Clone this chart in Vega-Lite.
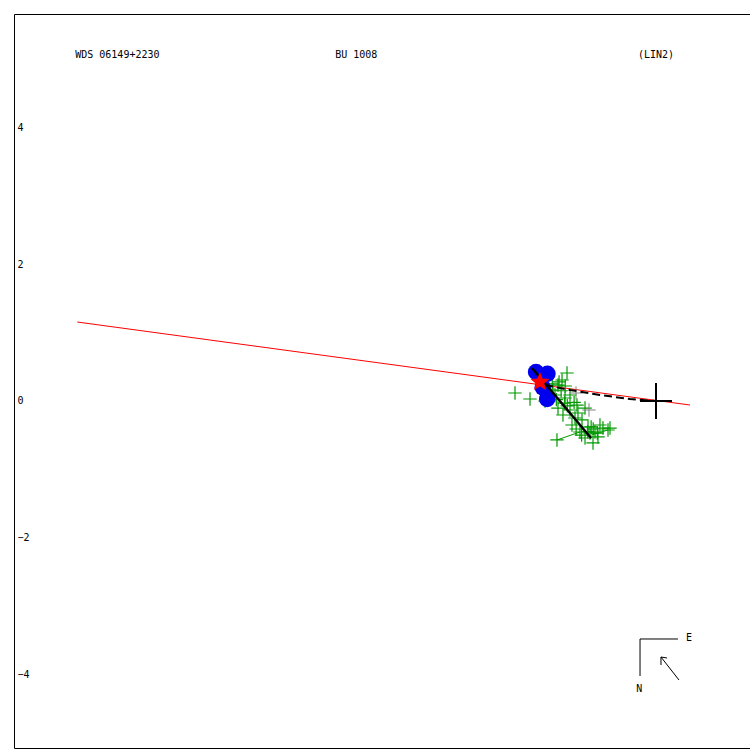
{
  "$schema": "https://vega.github.io/schema/vega-lite/v6.json",
  "width": 740,
  "height": 734,
  "autosize": {"type": "none"},
  "padding": {"left": 14, "top": 14, "right": 0, "bottom": 2},
  "background": "white",
  "config": {"view": {"stroke": "black", "strokeWidth": 1}},
  "encoding": {
    "x": {"field": "x", "type": "quantitative", "scale": {"domain": [-9.407, 1.436], "nice": false, "zero": false}, "axis": null},
    "y": {"field": "y", "type": "quantitative", "scale": {"domain": [-5.084, 5.67], "nice": false, "zero": false},
      "axis": {"values": [-4, -2, 0, 2, 4], "orient": "left", "ticks": false, "tickSize": 0, "domain": false, "grid": false, "labelAlign": "left", "labelPadding": -3, "labelFont": "DejaVu Sans Mono", "labelFontSize": 10, "labelColor": "black", "labelBaseline": "middle", "title": null}}
  },
  "layer": [
    {
      "data": {"values": [{"x": -8.48, "y": 1.157, "o": 0}, {"x": 0.498, "y": -0.059, "o": 1}]},
      "mark": {"type": "line", "color": "red", "strokeWidth": 1},
      "encoding": {"order": {"field": "o"}}
    },
    {
      "data": {"values": [{"x": -1.451, "y": -0.571, "x2": -1.114, "y2": -0.454}, {"x": -0.703, "y": -0.425, "x2": -0.95, "y2": -0.5}]},
      "mark": {"type": "rule", "color": "#009900", "strokeWidth": 1},
      "encoding": {"x2": {"field": "x2"}, "y2": {"field": "y2"}}
    },
    {
      "data": {"values": [
        {"x": -2.066, "y": 0.117}, {"x": -1.846, "y": 0.029}, {"x": -1.304, "y": 0.41}, {"x": -1.377, "y": 0.308},
        {"x": -1.436, "y": 0.234}, {"x": -1.509, "y": 0.161}, {"x": -1.568, "y": 0.073}, {"x": -1.626, "y": 0.0},
        {"x": -1.333, "y": 0.044}, {"x": -1.158, "y": -0.059}, {"x": -1.04, "y": -0.103}, {"x": -1.436, "y": -0.103},
        {"x": -1.26, "y": -0.132}, {"x": -1.143, "y": -0.176}, {"x": -1.187, "y": -0.249}, {"x": -1.084, "y": -0.278},
        {"x": -0.996, "y": -0.381}, {"x": -0.85, "y": -0.527}, {"x": -0.703, "y": -0.425}, {"x": -0.923, "y": -0.615},
        {"x": -1.04, "y": -0.542}, {"x": -1.451, "y": -0.571}, {"x": -0.777, "y": -0.396}, {"x": -0.894, "y": -0.454},
        {"x": -1.114, "y": -0.454}, {"x": -0.967, "y": -0.469}, {"x": -1.231, "y": -0.352}, {"x": -1.363, "y": -0.205},
        {"x": -1.48, "y": 0.088}, {"x": -1.26, "y": 0.088}, {"x": -0.821, "y": -0.352}, {"x": -0.674, "y": -0.396},
        {"x": -1.39, "y": 0.15}, {"x": -1.2, "y": -0.02}, {"x": -1.0, "y": -0.45}, {"x": -0.95, "y": -0.38},
        {"x": -1.42, "y": 0.28}, {"x": -1.33, "y": 0.22}, {"x": -1.46, "y": 0.02}, {"x": -1.3, "y": -0.07},
        {"x": -1.09, "y": -0.5}, {"x": -0.92, "y": -0.41}, {"x": -0.86, "y": -0.47}, {"x": -1.17, "y": -0.41},
        {"x": -1.34, "y": -0.03}, {"x": -1.52, "y": 0.25}
      ]},
      "mark": {"type": "point", "shape": "M-1,0H1M0,-1V1", "filled": false, "stroke": "#009900", "strokeWidth": 1.2, "size": 180, "opacity": 1}
    },
    {
      "data": {"values": [{"x": -1.172, "y": 0.117}, {"x": -0.982, "y": -0.132}]},
      "mark": {"type": "point", "shape": "M-1,0H1M0,-1V1", "filled": false, "stroke": "#808080", "strokeWidth": 1, "size": 180, "opacity": 1}
    },
    {
      "data": {"values": [{"x": -1.758, "y": 0.425}, {"x": -1.59, "y": 0.4}, {"x": -1.595, "y": 0.03}, {"x": -1.66, "y": 0.2}]},
      "mark": {"type": "point", "shape": "circle", "filled": true, "color": "#0000ee", "size": 270, "opacity": 1}
    },
    {
      "data": {"values": [{"x": -1.817, "y": 0.484, "o": 0}, {"x": -0.952, "y": -0.542, "o": 1}]},
      "mark": {"type": "line", "color": "black", "strokeWidth": 2.5},
      "encoding": {"order": {"field": "o"}}
    },
    {
      "data": {"values": [
        {"x": -1.626, "y": 0.234, "o": 0}, {"x": -1.26, "y": 0.161, "o": 1}, {"x": -0.821, "y": 0.088, "o": 2},
        {"x": -0.381, "y": 0.029, "o": 3}, {"x": 0.0, "y": 0.0, "o": 4}, {"x": 0.234, "y": 0.0, "o": 5}
      ]},
      "mark": {"type": "line", "color": "black", "strokeWidth": 2, "strokeDash": [8, 4]},
      "encoding": {"order": {"field": "o"}}
    },
    {
      "data": {"values": [{"x": -1.7, "y": 0.278}]},
      "mark": {"type": "point", "shape": "M0,-1L0.265,-0.364L0.951,-0.309L0.428,0.139L0.588,0.809L0,0.45L-0.588,0.809L-0.428,0.139L-0.951,-0.309L-0.265,-0.364Z", "filled": true, "color": "red", "size": 400, "opacity": 1}
    },
    {
      "data": {"values": [
        {"x": 0.0, "y": 0.264, "x2": 0.0, "y2": -0.264},
        {"x": -0.234, "y": 0.0, "x2": 0.234, "y2": 0.0}
      ]},
      "mark": {"type": "rule", "color": "black", "strokeWidth": 2},
      "encoding": {"x2": {"field": "x2"}, "y2": {"field": "y2"}}
    },
    {
      "data": {"values": [
        {"x": -0.234, "y": -3.487, "x2": 0.322, "y2": -3.487},
        {"x": -0.234, "y": -3.487, "x2": -0.234, "y2": -4.029},
        {"x": 0.337, "y": -4.088, "x2": 0.073, "y2": -3.751},
        {"x": 0.073, "y": -3.751, "x2": 0.073, "y2": -3.868},
        {"x": 0.073, "y": -3.751, "x2": 0.161, "y2": -3.765}
      ]},
      "mark": {"type": "rule", "color": "black", "strokeWidth": 1},
      "encoding": {"x2": {"field": "x2"}, "y2": {"field": "y2"}}
    },
    {
      "data": {"values": [
        {"x": -8.51, "y": 5.07, "t": "WDS 06149+2230"},
        {"x": -4.70, "y": 5.07, "t": "BU 1008"},
        {"x": -0.264, "y": 5.07, "t": "(LIN2)"},
        {"x": 0.44, "y": -3.472, "t": "E"},
        {"x": -0.29, "y": -4.22, "t": "N"}
      ]},
      "mark": {"type": "text", "align": "left", "baseline": "middle", "font": "DejaVu Sans Mono", "fontSize": 10, "color": "black"},
      "encoding": {"text": {"field": "t"}}
    }
  ]
}
